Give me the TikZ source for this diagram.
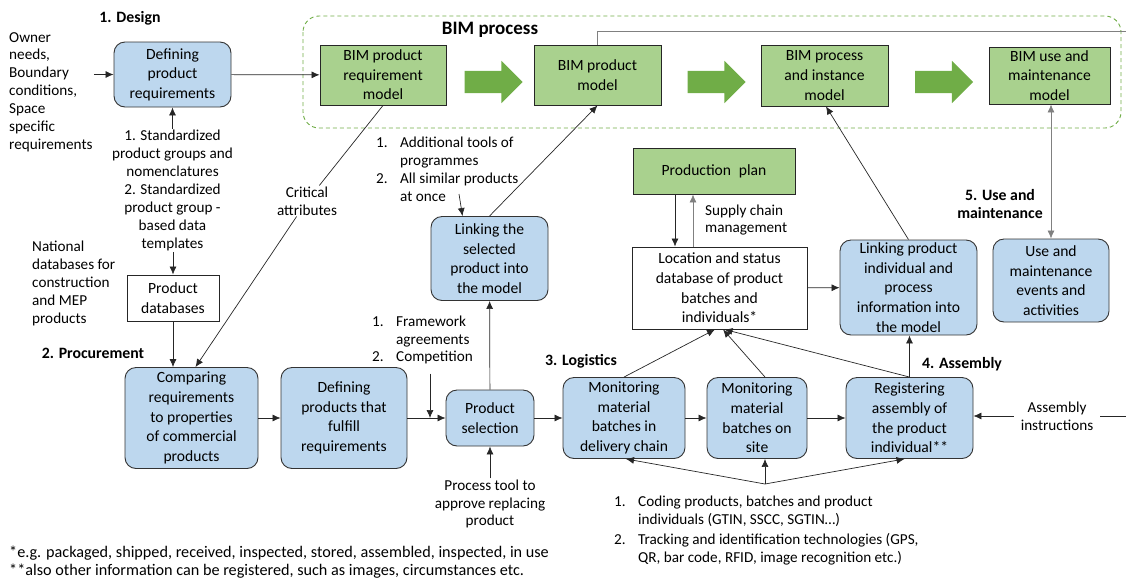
\documentclass[tikz,border=0pt]{standalone}
\usepackage{fontspec}
\setmainfont{Carlito}
\usetikzlibrary{shapes.arrows,arrows.meta,positioning,calc}
\definecolor{procblue}{RGB}{189,215,238}
\definecolor{bimgreen}{RGB}{169,209,142}
\definecolor{arrowgreen}{RGB}{112,173,71}
\newcommand{\bxfont}{\fontsize{15.6}{19.6}\selectfont}
\newcommand{\ntfont}{\fontsize{15.2}{17.9}\selectfont}
\newcommand{\phfont}{\fontsize{15.8}{18}\selectfont\bfseries}
\newcommand{\itm}[1]{\makebox[24pt][l]{#1}}
\tikzset{
  proc/.style={draw=black!80, line width=0.9pt, fill=procblue,
    rounded corners=11pt, align=center, font=\bxfont, inner sep=1pt},
  bim/.style={draw=black!85, line width=0.9pt, fill=bimgreen,
    align=center, font=\bxfont, inner sep=1pt},
  dbbox/.style={draw=black!85, line width=0.9pt, fill=white,
    align=center, font=\bxfont, inner sep=1pt},
  note/.style={align=center, font=\ntfont, inner sep=1pt},
  lnote/.style={align=left, font=\ntfont, inner sep=1pt},
  phase/.style={font=\phfont, inner sep=1pt},
  bigarrow/.style={single arrow, fill=arrowgreen, draw=none,
    inner xsep=0pt, inner ysep=11pt, single arrow head extend=10pt,
    minimum height=58pt},
  bimframe/.style={draw=arrowgreen, line width=0.9pt,
    dash pattern=on 4pt off 3pt, rounded corners=16pt},
  conn/.style={draw=black!85, line width=0.7pt},
  arr/.style={conn, -{Latex[length=8pt,width=7pt]}},
  arrtwo/.style={conn, {Latex[length=8pt,width=7pt]}-{Latex[length=8pt,width=7pt]}},
}
\begin{document}
\begin{tikzpicture}[x=1pt, y=-1pt]
\useasboundingbox (0,0) rectangle (1126,579);

% BIM process
\draw[bimframe] (303,16) rectangle (1121,128);
\node[font=\bfseries\fontsize{19}{22}\selectfont] (bimttl) at (490,30) {BIM process};
\node[bim, minimum width=126pt, minimum height=60pt] (bprm) at (383,75) {BIM product\\requirement\\model};
\node[bim, minimum width=127pt, minimum height=60pt] (bpm) at (597.5,75) {BIM product\\model};
\node[bim, minimum width=127pt, minimum height=61pt] (bpim) at (824.5,75.5) {BIM process\\and instance\\model};
\node[bim, minimum width=121pt, minimum height=57pt] (bumm) at (1049.5,75.5) {BIM use and\\maintenance\\model};
\node[bigarrow] (ga1) at (488,82) {};
\node[bigarrow] (ga2) at (711,82) {};
\node[bigarrow] (ga3) at (938.5,82) {};
\coordinate (edgeT) at (1126,31);
\draw[conn, draw=gray] (bpm.north) |- (edgeT);

% 1. Design
\node[phase] (desl) at (130,18) {1. Design};
\node[lnote, anchor=west] (owner) at (8,92) {Owner\\needs,\\Boundary\\conditions,\\Space\\specific\\requirements};
\node[proc, minimum width=117pt, minimum height=65pt] (dpr) at (172.5,74.5) {Defining\\product\\requirements};
\draw[arr] (owner.east |- dpr.west) -- (dpr.west);
\draw[arr] (dpr) -- (bprm);
\node[note] (std) at (172.5,190.5) {1. Standardized\\product groups and\\nomenclatures\\2. Standardized\\product group -\\based data\\templates};
\draw[arr] (dpr.south |- std.north) -- (dpr.south);
\node[dbbox, minimum width=92pt, minimum height=46pt] (pdb) at (173,298) {Product\\databases};
\draw[arr] (pdb.north |- std.south) -- (pdb.north);
\node[lnote, anchor=west] (natdb) at (31,283.5) {National\\databases for\\construction\\and MEP\\products};

% 2. Procurement
\node[phase] (procl) at (93,353) {2. Procurement};
\node[proc, minimum width=133pt, minimum height=101pt] (cmp) at (191.5,418) {Comparing\\requirements\\to properties\\of commercial\\products};
\node[proc, minimum width=126pt, minimum height=101pt] (dpp) at (344,418) {Defining\\products that\\fulfill\\requirements};
\node[proc, minimum width=88pt, minimum height=56pt] (ps) at (490,418) {Product\\selection};
\draw[arr] (pdb) -- (pdb.south |- cmp.north);
\node[note] (crit) at (307,201) {Critical\\attributes};
\draw[conn] (bprm.south) -- (crit);
\draw[arr] (crit) -- ($(cmp.north)+(4,0)$);
\draw[arr] (cmp) -- (dpp);
\draw[arr] (dpp) -- (ps);
\node[lnote, anchor=west] (fw) at (371,340) {\itm{1.}Framework\\\itm{}agreements\\\itm{2.}Competition};
\coordinate (fwin) at (430,418);
\draw[arr] ($(fwin |- fw.south)+(0,8)$) -- (fwin);
\node[note] (ptool) at (490,504) {Process tool to\\approve replacing\\product};
\draw[arr] (ptool) -- (ps);
\node[proc, minimum width=117pt, minimum height=84pt] (ls) at (489.5,258.5) {Linking the\\selected\\product into\\the model};
\draw[arr] (ps) -- (ls);
\draw[arr] (ls.north) -- (bpm.south);
\node[lnote, anchor=west] (addl) at (375,169.5) {\itm{1.}Additional tools of\\\itm{}programmes\\\itm{2.}All similar products\\\itm{}at once};
\coordinate (addtail) at (459,194);
\draw[arr] (addtail) -- ($(ls.north)+(-27,0)$);

% 3. Logistics
\node[phase] (logl) at (581,361) {3. Logistics};
\node[proc, minimum width=122pt, minimum height=81pt] (mon1) at (624,418) {Monitoring\\material\\batches in\\delivery chain};
\node[proc, minimum width=100pt, minimum height=81pt] (mon2) at (757,418) {Monitoring\\material\\batches on\\site};
\draw[arr] (ps) -- (mon1);
\draw[arr] (mon1) -- (mon2);
\node[bim, minimum width=162pt, minimum height=46pt] (pp) at (714,171) {Production\enspace plan};
\node[dbbox, minimum width=175pt, minimum height=82pt] (loc) at (719.5,288) {Location and status\\database of product\\batches and\\individuals*};
\coordinate (ppdn) at ($(pp.south)+(-39,0)$);
\coordinate (ppup) at ($(pp.south)+(-21,0)$);
\draw[arr] (ppdn) -- (ppdn |- loc.north);
\draw[arr, draw=gray] (ppup |- loc.north) -- (ppup);
\node[lnote, anchor=west] (scm) at (704,220) {Supply chain\\management};

% 4. Assembly
\node[phase] (asml) at (962,364) {4. Assembly};
\node[proc, minimum width=127pt, minimum height=81pt] (reg) at (909.5,418) {Registering\\assembly of\\the product\\individual**};
\draw[arr] (mon2) -- (reg);
\node[note] (asm) at (1057,416) {Assembly\\instructions};
\draw[arr] ($(asm.west)+(-6,0)$) -- (asm.west -| reg.east);
\coordinate (edgeR) at (1126,416);
\draw[conn] ($(asm.east)+(6,0)$) -- (edgeR);
\node[proc, minimum width=137pt, minimum height=95pt] (lpi) at (908.5,287.5) {Linking product\\individual and\\process\\information into\\the model};
\draw[arr] (loc) -- (lpi);
\draw[arr] (lpi.north) -- ($(bpim.south)+(1.5,0)$);
\draw[arr] (reg.north) -- (reg.north |- lpi.south);
\draw[arr] (mon1.north) -- ($(loc.south)+(-4.5,0)$);
\draw[arr] ($(mon2.north)+(8,0)$) -- ($(loc.south)+(3.5,0)$);
\draw[arr] (reg.north) -- ($(loc.south)+(5,0)$);

% 5. Use and maintenance
\node[phase, align=center] (usel) at (1000,204) {5. Use and\\maintenance};
\node[proc, minimum width=116pt, minimum height=83pt] (ume) at (1051,280.5) {Use and\\maintenance\\events and\\activities};
\draw[arrtwo, draw=gray] (bumm.south -| ume.north) -- (ume.north);

% coding and tracking
\node[lnote, anchor=north west] (coding) at (613,495) {\itm{1.}Coding products, batches and product\\\itm{}individuals (GTIN, SSCC, SGTIN…)\\[2pt]\itm{2.}Tracking and identification technologies (GPS,\\\itm{}QR, bar code, RFID, image recognition etc.)};
\coordinate (codjoin) at (765,484);
\draw[arr] (codjoin) -- ($(mon1.south)+(2,0)$);
\draw[arr] (codjoin) -- ($(mon2.south)+(8,0)$);
\draw[arr] (codjoin) -- ($(reg.south)+(-5,0)$);

% footnotes
\node[lnote, anchor=west, font=\fontsize{16.2}{18}\selectfont] (foot) at (8,562) {*e.g. packaged, shipped, received, inspected, stored, assembled, inspected, in use\\**also other information can be registered, such as images, circumstances etc.};
\end{tikzpicture}
\end{document}
